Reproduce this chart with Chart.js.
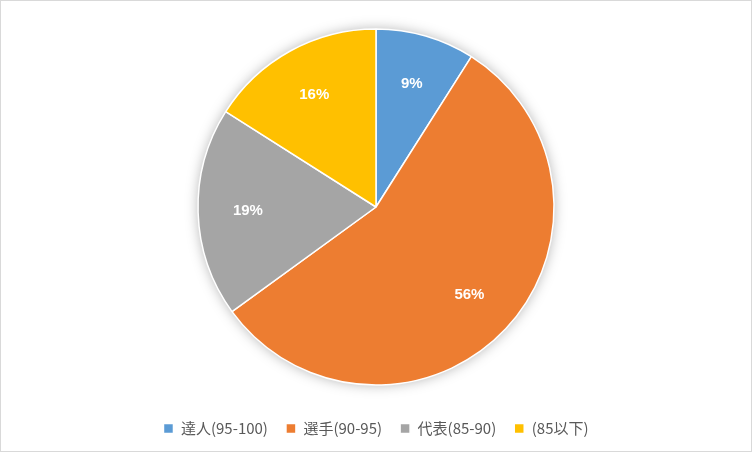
<!DOCTYPE html>
<html><head><meta charset="utf-8">
<script src="https://cdn.jsdelivr.net/npm/chart.js@4"></script>
<style>html,body{margin:0;padding:0;background:#fff}#w{width:750px;height:450px;border:1px solid #d9d9d9}</style>
</head><body><div id="w"><canvas id="c" width="750" height="450"></canvas></div>
<script>
const categories = ["達人(95-100)", "選手(90-95)", "代表(85-90)", "(85以下)"];
const values = [9, 56, 19, 16];
const colors = ["#5b9bd5", "#ed7d31", "#a5a5a5", "#ffc000"];
const shadow = {id:'shadow', beforeDatasetsDraw(chart){
  const a = chart.getDatasetMeta(0).data[0]; const ctx = chart.ctx;
  ctx.save(); ctx.shadowColor='rgba(0,0,0,0.35)'; ctx.shadowBlur=14;
  ctx.beginPath(); ctx.arc(a.x,a.y,a.outerRadius-1,0,Math.PI*2); ctx.fillStyle='#fff'; ctx.fill(); ctx.restore();
}};
const labels = {id:'labels', afterDatasetsDraw(chart){
  const ctx = chart.ctx; const total = values.reduce((s,v)=>s+v,0);
  chart.getDatasetMeta(0).data.forEach((el,i)=>{
    const {x,y,startAngle,endAngle,outerRadius} = el.getProps(['x','y','startAngle','endAngle','outerRadius'],true);
    const m=(startAngle+endAngle)/2, r=outerRadius*0.72;
    ctx.save(); ctx.fillStyle='#fff'; ctx.font='bold 15px "Liberation Sans", Arial'; ctx.textAlign='center'; ctx.textBaseline='middle';
    ctx.fillText(Math.round(values[i]/total*100)+'%', x+Math.cos(m)*r, y+Math.sin(m)*r); ctx.restore();
  });
}};
new Chart(document.getElementById('c'), {
  type:'pie',
  data:{labels:categories, datasets:[{data:values, backgroundColor:colors, borderColor:'#fff', borderWidth:1.5}]},
  options:{responsive:false, animation:false, radius:178,
    layout:{padding:{top:10,bottom:5}},
    plugins:{tooltip:{enabled:false},
      legend:{position:'bottom', labels:{boxWidth:10, boxHeight:10, padding:18, color:'#595959', font:{size:15, family:'"Noto Sans CJK JP"'}}}}},
  plugins:[shadow, labels]
});
</script></body></html>
